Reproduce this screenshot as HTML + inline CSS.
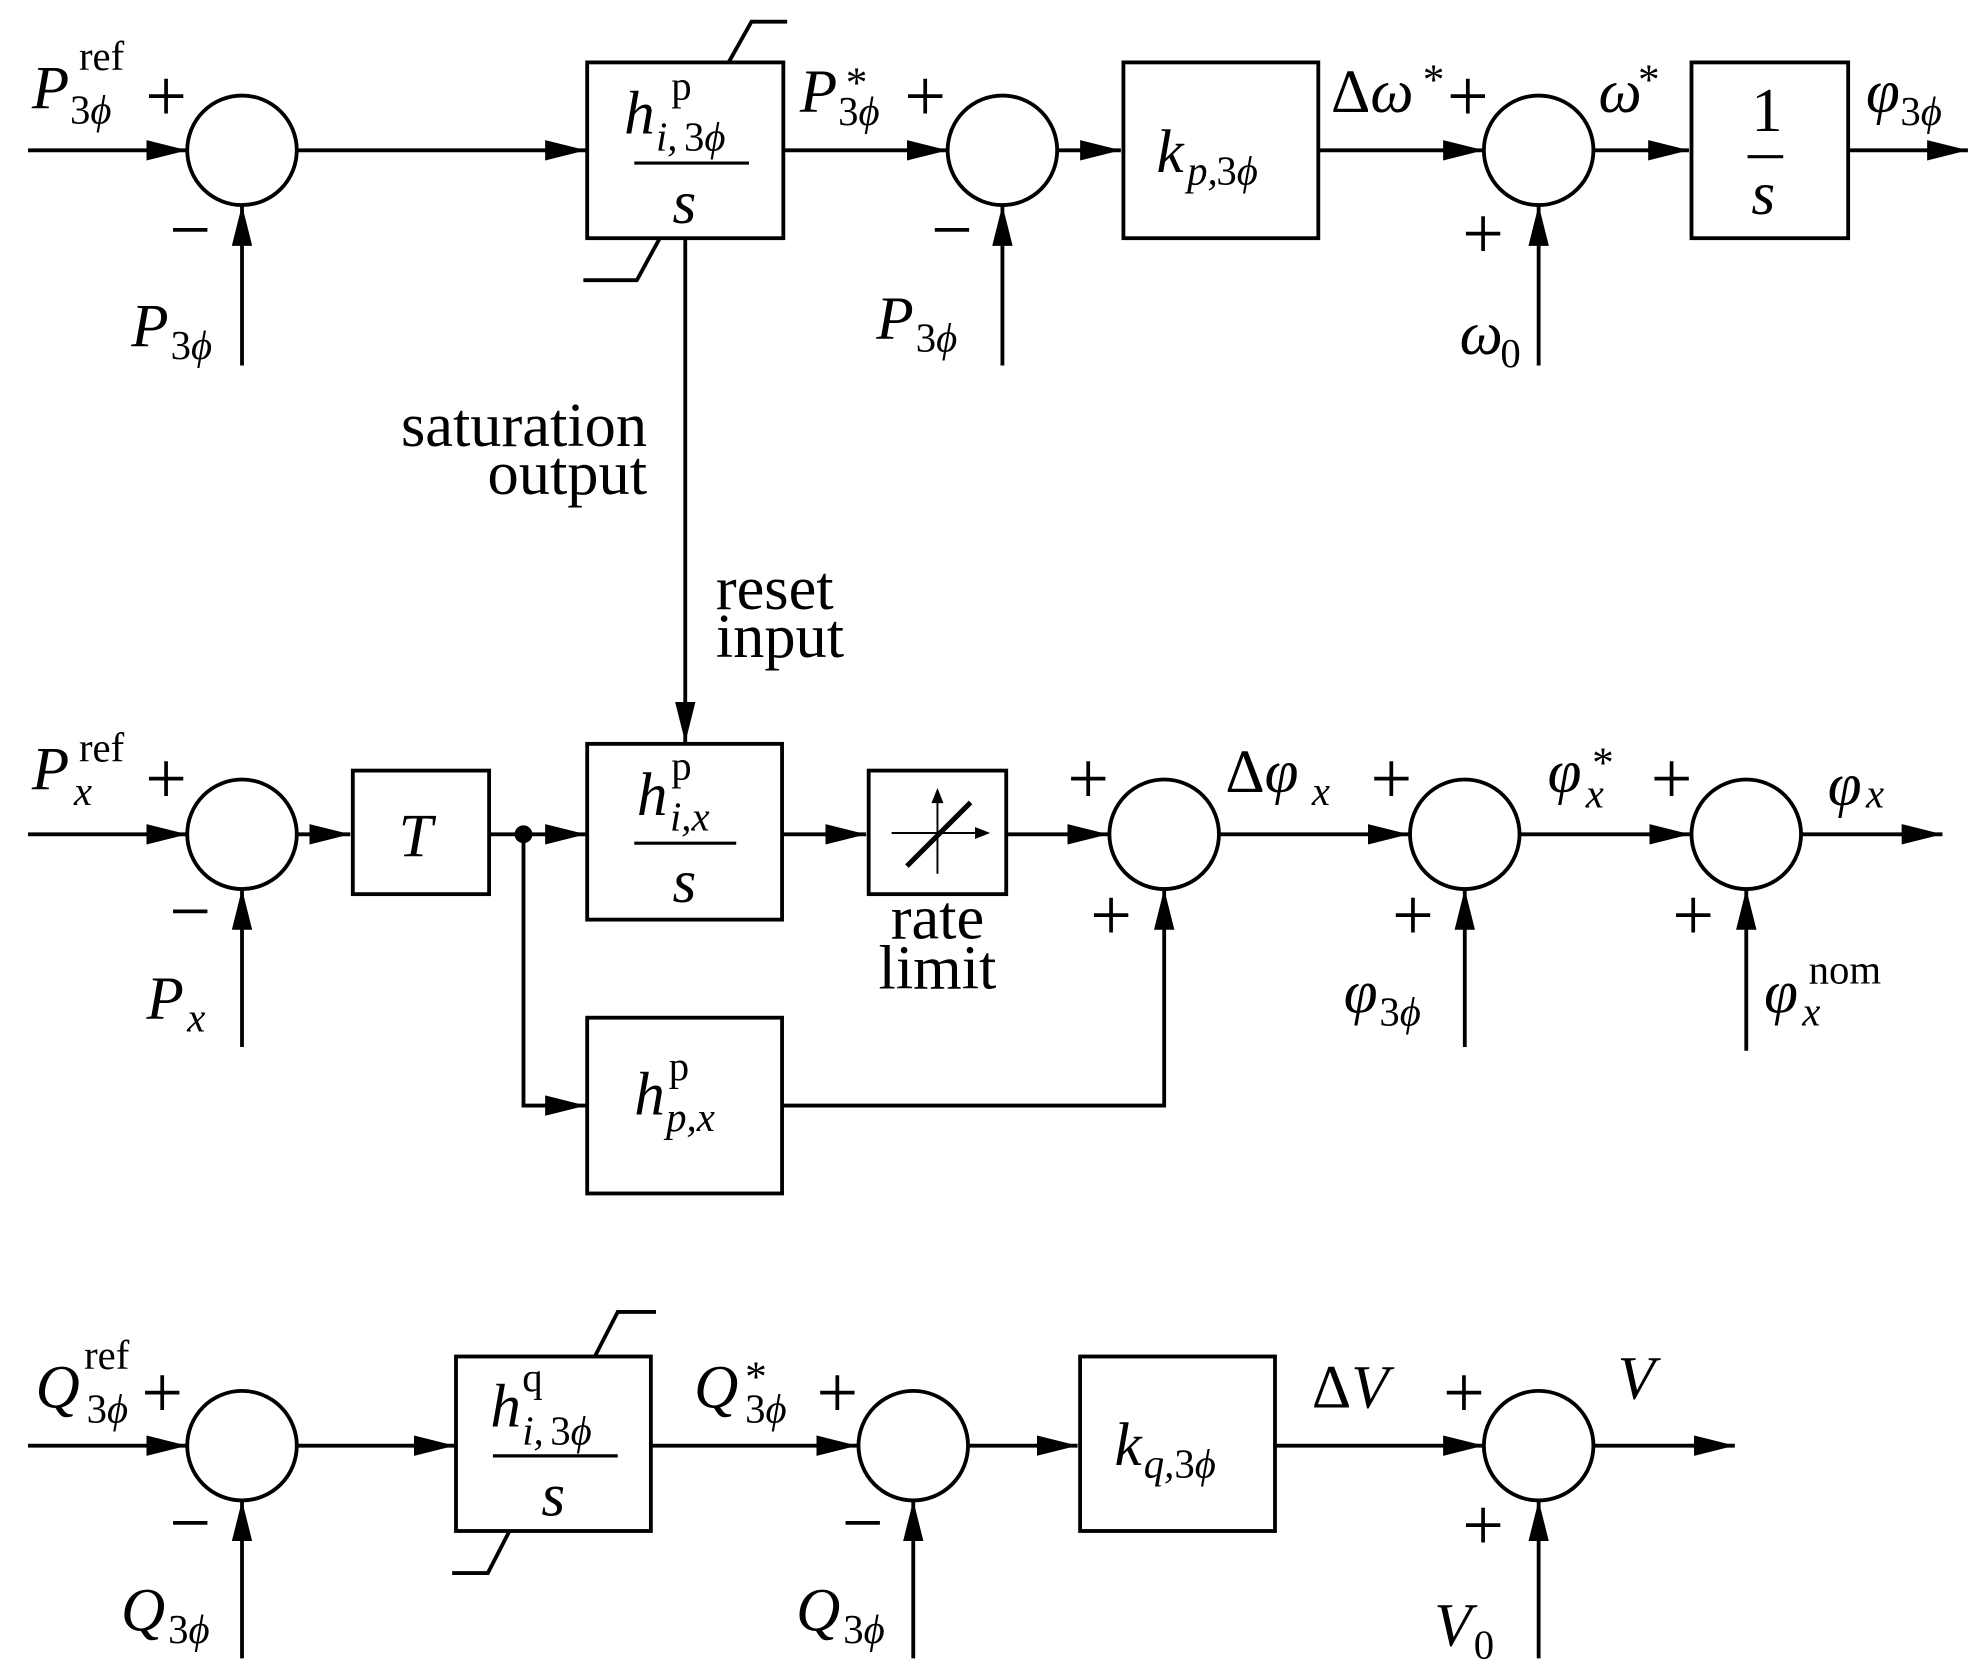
<!DOCTYPE html>
<html><head><meta charset="utf-8"><style>
html,body{margin:0;padding:0;background:#fff}
svg{display:block}
text{font-family:"Liberation Serif",serif;fill:#000}
.m{font-style:italic;font-size:48px}
.r{font-size:49px}
.p{font-size:58px}
.s{font-size:32px}
.si{font-size:32px;font-style:italic}
.st{font-size:34px}
</style></head><body>
<svg width="1987" height="1672" viewBox="0 0 1560 1312.7" preserveAspectRatio="none" xmlns="http://www.w3.org/2000/svg">
<defs>
<marker id="b" markerWidth="32" markerHeight="16" refX="32" refY="8" orient="auto" markerUnits="userSpaceOnUse"><path d="M0,0 L32,8 L0,16 Z" fill="#000"/></marker></defs>
<g stroke="#000" stroke-width="3" fill="none">
<!-- Row1 -->
<line x1="22" y1="118" x2="147" y2="118" marker-end="url(#b)"/>
<circle cx="190" cy="118" r="43"/>
<line x1="190" y1="287" x2="190" y2="161" marker-end="url(#b)"/>
<line x1="233" y1="118" x2="460" y2="118" marker-end="url(#b)"/>
<rect x="461" y="49" width="154" height="138"/>
<polyline points="572,49 590,17 618,17"/>
<polyline points="518,187 500,220 458,220"/>
<line x1="615" y1="118" x2="744" y2="118" marker-end="url(#b)"/>
<circle cx="787" cy="118" r="43"/>
<line x1="787" y1="287" x2="787" y2="161" marker-end="url(#b)"/>
<line x1="830" y1="118" x2="880" y2="118" marker-end="url(#b)"/>
<rect x="882" y="49" width="153" height="138"/>
<line x1="1035" y1="118" x2="1165" y2="118" marker-end="url(#b)"/>
<circle cx="1208" cy="118" r="43"/>
<line x1="1208" y1="287" x2="1208" y2="161" marker-end="url(#b)"/>
<line x1="1251" y1="118" x2="1326" y2="118" marker-end="url(#b)"/>
<rect x="1328" y="49" width="123" height="138"/>
<line x1="1451" y1="118" x2="1545" y2="118" marker-end="url(#b)"/>
<line x1="538" y1="187" x2="538" y2="583" marker-end="url(#b)"/>
<!-- Row2 -->
<line x1="22" y1="655" x2="147" y2="655" marker-end="url(#b)"/>
<circle cx="190" cy="655" r="43"/>
<line x1="190" y1="822" x2="190" y2="698" marker-end="url(#b)"/>
<line x1="233" y1="655" x2="275" y2="655" marker-end="url(#b)"/>
<rect x="277" y="605" width="107" height="97"/>
<line x1="384" y1="655" x2="460" y2="655" marker-end="url(#b)"/>
<rect x="461" y="584" width="153" height="138"/>
<line x1="614" y1="655" x2="680" y2="655" marker-end="url(#b)"/>
<rect x="682" y="605" width="108" height="97"/>
<line x1="790" y1="655" x2="870" y2="655" marker-end="url(#b)"/>
<circle cx="914" cy="655" r="43"/>
<line x1="957" y1="655" x2="1106" y2="655" marker-end="url(#b)"/>
<circle cx="1150" cy="655" r="43"/>
<line x1="1150" y1="822" x2="1150" y2="698" marker-end="url(#b)"/>
<line x1="1193" y1="655" x2="1327" y2="655" marker-end="url(#b)"/>
<circle cx="1371" cy="655" r="43"/>
<line x1="1371" y1="825" x2="1371" y2="698" marker-end="url(#b)"/>
<line x1="1414" y1="655" x2="1525" y2="655" marker-end="url(#b)"/>
<polyline points="411,655 411,868 460,868" marker-end="url(#b)"/>
<rect x="461" y="799" width="153" height="138"/>
<polyline points="614,868 914,868 914,698" marker-end="url(#b)"/>
<!-- Row3 -->
<line x1="22" y1="1135" x2="147" y2="1135" marker-end="url(#b)"/>
<circle cx="190" cy="1135" r="43"/>
<line x1="190" y1="1302" x2="190" y2="1178" marker-end="url(#b)"/>
<line x1="233" y1="1135" x2="357" y2="1135" marker-end="url(#b)"/>
<rect x="358" y="1065" width="153" height="137"/>
<polyline points="467,1065 485,1030 515,1030"/>
<polyline points="400,1202 383,1235 355,1235"/>
<line x1="511" y1="1135" x2="673" y2="1135" marker-end="url(#b)"/>
<circle cx="717" cy="1135" r="43"/>
<line x1="717" y1="1302" x2="717" y2="1178" marker-end="url(#b)"/>
<line x1="760" y1="1135" x2="846" y2="1135" marker-end="url(#b)"/>
<rect x="848" y="1065" width="153" height="137"/>
<line x1="1001" y1="1135" x2="1165" y2="1135" marker-end="url(#b)"/>
<circle cx="1208" cy="1135" r="43"/>
<line x1="1208" y1="1302" x2="1208" y2="1178" marker-end="url(#b)"/>
<line x1="1251" y1="1135" x2="1362" y2="1135" marker-end="url(#b)"/>
<!-- fraction bars -->
<line x1="498" y1="128" x2="588" y2="128" stroke-width="2.5"/>
<line x1="1372" y1="123" x2="1400" y2="123" stroke-width="2.5"/>
<line x1="498" y1="662" x2="578" y2="662" stroke-width="2.5"/>
<line x1="387" y1="1143" x2="485" y2="1143" stroke-width="2.5"/>
</g>
<circle cx="411" cy="655" r="7" fill="#000"/>
<!-- rate limit symbol -->
<g stroke="#000" fill="#000">
<line x1="700" y1="654" x2="768" y2="654" stroke-width="1.5"/><path d="M776,654 L766,650 L766,658Z"/>
<line x1="736" y1="686" x2="736" y2="628" stroke-width="1.5"/><path d="M736,620 L732,630 L740,630Z"/>
<line x1="712" y1="680" x2="762" y2="630" stroke-width="4"/>
</g>
<!-- Row1 labels -->
<text class="m" x="25" y="85">P</text><text class="s" x="62" y="55">ref</text><text class="s" x="55" y="97">3<tspan font-style="italic">ϕ</tspan></text>
<text class="p" x="114" y="95">+</text><text class="p" x="133" y="200">−</text>
<text class="m" x="103" y="272">P</text><text class="s" x="134" y="282">3<tspan font-style="italic">ϕ</tspan></text>
<text class="m" x="490" y="105">h</text><text class="s" x="527" y="78">p</text><text class="si" x="515" y="118">i,</text><text class="s" x="537" y="118">3<tspan font-style="italic">ϕ</tspan></text>
<text class="m" x="528" y="175">s</text>
<text class="m" x="628" y="88">P</text><text class="st" x="664" y="76">*</text><text class="s" x="658" y="98">3<tspan font-style="italic">ϕ</tspan></text>
<text class="p" x="710" y="95">+</text><text class="p" x="731" y="200">−</text>
<text class="m" x="688" y="266">P</text><text class="s" x="719" y="276">3<tspan font-style="italic">ϕ</tspan></text>
<text class="m" x="908" y="135">k</text><text class="si" x="932" y="145">p,</text><text class="s" x="955" y="145">3<tspan font-style="italic">ϕ</tspan></text>
<text class="m" x="1045" y="88"><tspan font-style="normal">Δ</tspan>ω</text><text class="st" x="1117" y="74">*</text>
<text class="p" x="1136" y="95">+</text><text class="p" x="1148" y="203">+</text>
<text class="m" x="1146" y="278">ω</text><text class="s" x="1178" y="288">0</text>
<text class="m" x="1255" y="88">ω</text><text class="st" x="1286" y="74">*</text>
<text class="r" x="1375" y="103">1</text><text class="m" x="1375" y="168">s</text>
<text class="m" x="1465" y="88">φ</text><text class="s" x="1492" y="98">3<tspan font-style="italic">ϕ</tspan></text>
<text class="r" x="508" y="350" text-anchor="end">saturation</text>
<text class="r" x="508" y="388" text-anchor="end">output</text>
<text class="r" x="562" y="478">reset</text>
<text class="r" x="562" y="516">input</text>
<!-- Row2 labels -->
<text class="m" x="25" y="620">P</text><text class="s" x="62" y="598">ref</text><text class="si" x="58" y="632">x</text>
<text class="p" x="114" y="631">+</text><text class="p" x="133" y="735">−</text>
<text class="m" x="115" y="800">P</text><text class="si" x="147" y="810">x</text>
<text class="m" x="313" y="672">T</text>
<text class="m" x="500" y="640">h</text><text class="s" x="527" y="612">p</text><text class="si" x="526" y="652">i,x</text>
<text class="m" x="528" y="708">s</text>
<text class="r" x="736" y="737" text-anchor="middle">rate</text>
<text class="r" x="736" y="776" text-anchor="middle">limit</text>
<text class="p" x="838" y="631">+</text><text class="p" x="856" y="738">+</text>
<text class="m" x="962" y="622"><tspan font-style="normal">Δ</tspan>φ</text><text class="si" x="1030" y="632">x</text>
<text class="p" x="1076" y="631">+</text><text class="p" x="1093" y="738">+</text>
<text class="m" x="1055" y="795">φ</text><text class="s" x="1083" y="805">3<tspan font-style="italic">ϕ</tspan></text>
<text class="m" x="1215" y="622">φ</text><text class="st" x="1250" y="610">*</text><text class="si" x="1245" y="634">x</text>
<text class="p" x="1296" y="631">+</text><text class="p" x="1313" y="738">+</text>
<text class="m" x="1385" y="795">φ</text><text class="s" x="1420" y="772">nom</text><text class="si" x="1415" y="805">x</text>
<text class="m" x="1435" y="632">φ</text><text class="si" x="1465" y="634">x</text>
<text class="m" x="498" y="875">h</text><text class="s" x="525" y="848">p</text><text class="si" x="523" y="888">p,x</text>
<!-- Row3 labels -->
<text class="m" x="28" y="1105">Q</text><text class="s" x="66" y="1075">ref</text><text class="s" x="68" y="1117">3<tspan font-style="italic">ϕ</tspan></text>
<text class="p" x="111" y="1113">+</text><text class="p" x="133" y="1215">−</text>
<text class="m" x="95" y="1280">Q</text><text class="s" x="132" y="1290">3<tspan font-style="italic">ϕ</tspan></text>
<text class="m" x="385" y="1120">h</text><text class="s" x="410" y="1092">q</text><text class="si" x="410" y="1134">i,</text><text class="s" x="432" y="1134">3<tspan font-style="italic">ϕ</tspan></text>
<text class="m" x="425" y="1190">s</text>
<text class="m" x="545" y="1105">Q</text><text class="st" x="585" y="1092">*</text><text class="s" x="585" y="1117">3<tspan font-style="italic">ϕ</tspan></text>
<text class="p" x="641" y="1113">+</text><text class="p" x="661" y="1215">−</text>
<text class="m" x="625" y="1280">Q</text><text class="s" x="662" y="1290">3<tspan font-style="italic">ϕ</tspan></text>
<text class="m" x="875" y="1150">k</text><text class="si" x="898" y="1160">q,</text><text class="s" x="922" y="1160">3<tspan font-style="italic">ϕ</tspan></text>
<text class="m" x="1030" y="1105"><tspan font-style="normal">Δ</tspan>V</text>
<text class="p" x="1133" y="1113">+</text><text class="p" x="1148" y="1217">+</text>
<text class="m" x="1126" y="1292">V</text><text class="s" x="1157" y="1302">0</text>
<text class="m" x="1270" y="1098">V</text>
</svg>
</body></html>
